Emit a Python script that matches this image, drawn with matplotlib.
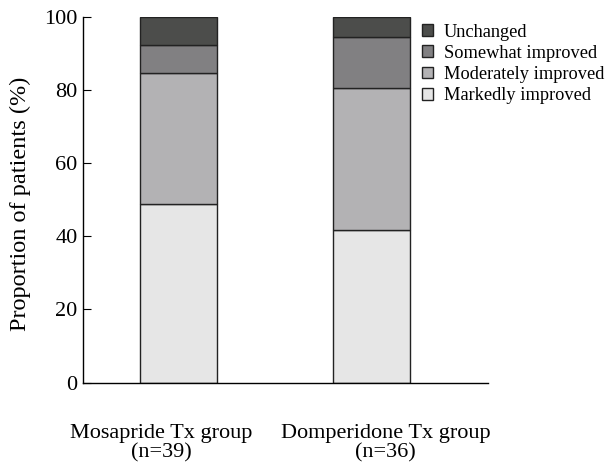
import numpy as np
import matplotlib.pyplot as plt

plt.rcParams['font.family'] = ['Liberation Serif', 'DejaVu Serif']

# response counts per group (n=39, n=36)
groups = ['Mosapride Tx group\n(n=39)', 'Domperidone Tx group\n(n=36)']
group_n = np.array([39, 36])
markedly = np.array([19, 15])
moderately = np.array([14, 14])
somewhat = np.array([3, 5])
unchanged = np.array([3, 2])

categories = ['Markedly improved', 'Moderately improved',
              'Somewhat improved', 'Unchanged']
counts = [markedly, moderately, somewhat, unchanged]
colors = ['#e6e6e6', '#b3b2b4', '#818082', '#4c4d4b']

fig = plt.figure(figsize=(6.06, 4.62), dpi=100)
ax = fig.add_axes([0.137, 0.172, 0.669, 0.792])

x = np.arange(len(groups))
bottom = np.zeros(len(groups))
handles = []
for name, cnt, col in zip(categories, counts, colors):
    pct = cnt / group_n * 100
    h = ax.bar(x, pct, width=0.4, bottom=bottom, color=col,
               edgecolor='#222222', linewidth=1.0, label=name)
    handles.append(h)
    bottom += pct

ax.set_xlim(-0.492, 1.603)
ax.set_ylim(0, 100)
ax.set_yticks([0, 20, 40, 60, 80, 100])
# group labels sit a little off the bar centres so the two don't collide
ax.set_xticks(x + np.array([-0.086, 0.071]))
ax.set_xticklabels(groups, fontsize=16, linespacing=1.0)
ax.tick_params(axis='x', length=0, pad=30)
ax.tick_params(axis='y', direction='in', length=6, labelsize=16, pad=4)
ax.set_ylabel('Proportion of patients (%)', fontsize=17.5)
ax.yaxis.set_label_coords(-0.129, 0.489)

for s in ['top', 'right']:
    ax.spines[s].set_visible(False)
for s in ['left', 'bottom']:
    ax.spines[s].set_linewidth(1.0)

leg = fig.legend(handles[::-1], categories[::-1], loc='upper left',
                 bbox_to_anchor=(0.6964, 0.949), frameon=False, fontsize=13.2,
                 handlelength=0.6, handleheight=0.6, handletextpad=0.6,
                 labelspacing=0.23, borderpad=0, borderaxespad=0)

fig.savefig('out.png', dpi=100)
